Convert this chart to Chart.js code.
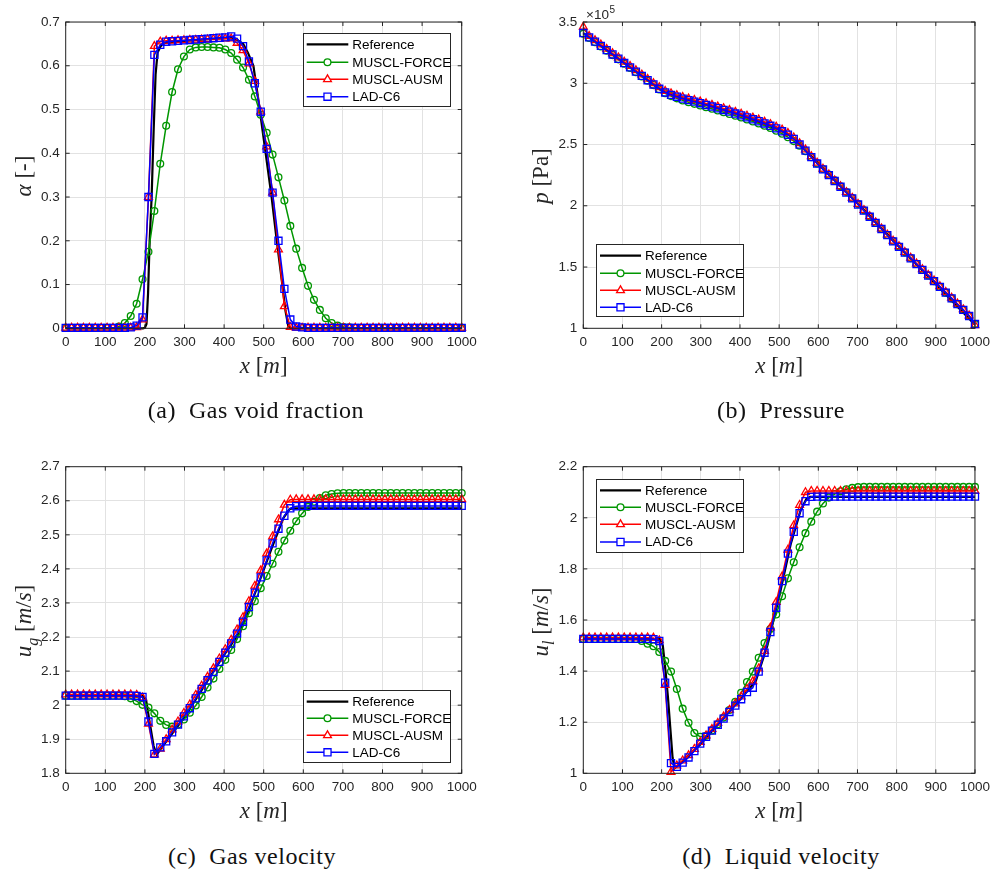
<!DOCTYPE html>
<html>
<head>
<meta charset="utf-8">
<script src="https://cdn.jsdelivr.net/npm/chart.js@4.4.0/dist/chart.umd.min.js"></script>
<style>
  html, body { margin:0; padding:0; background:#fff; }
  body { width:996px; height:871px; position:relative; overflow:hidden; }
  .p { position:absolute; width:496px; height:400px; }
  .cap { position:absolute; width:400px; text-align:center; font-family:"Liberation Serif", serif; font-size:24px; letter-spacing:0.5px; color:#111; white-space:pre; line-height:24px; }
</style>
</head>
<body>
<div class="p" style="left:0;top:0"><canvas id="ca" width="496" height="400"></canvas></div>
<div class="p" style="left:500px;top:0"><canvas id="cb" width="496" height="400"></canvas></div>
<div class="p" style="left:0;top:430px"><canvas id="cc" width="496" height="400"></canvas></div>
<div class="p" style="left:500px;top:430px"><canvas id="cd" width="496" height="400"></canvas></div>
<div class="cap" style="left:56px;top:398px">(a)  Gas void fraction</div>
<div class="cap" style="left:581px;top:398px">(b)  Pressure</div>
<div class="cap" style="left:52px;top:844px">(c)  Gas velocity</div>
<div class="cap" style="left:581px;top:844px">(d)  Liquid velocity</div>
<script>
// ---------- data ----------
const SERIES_NAMES = ['Reference', 'MUSCL-FORCE', 'MUSCL-AUSM', 'LAD-C6'];
const X_TICKS = [0, 100, 200, 300, 400, 500, 600, 700, 800, 900, 1000];

// marker abscissae [m]
const X = [0,14.9,29.9,44.8,59.7,74.6,89.6,104.5,119.4,134.3,
  149.3,164.2,179.1,194,209,223.9,238.8,253.7,268.7,283.6,
  298.5,313.4,328.4,343.3,358.2,373.1,388.1,403,417.9,432.8,
  447.8,462.7,477.6,492.5,507.5,522.4,537.3,552.2,567.2,582.1,
  597,611.9,626.9,641.8,656.7,671.6,686.6,701.5,716.4,731.3,
  746.3,761.2,776.1,791,806,820.9,835.8,850.7,865.7,880.6,
  895.5,910.4,925.4,940.3,955.2,970.1,985.1,1000];

// (a) gas void fraction
const A_TICKS = [0, 0.1, 0.2, 0.3, 0.4, 0.5, 0.6, 0.7];
const refXa = [0,195,200,204,208,212,217,222,227,232,240,250,300,350,400,420,435,448,460,474,490,505,520,533,547,555,562,570,1000];
const refYa = [0,0,0.001,0.01,0.08,0.2,0.3,0.45,0.58,0.63,0.645,0.652,0.657,0.66,0.663,0.664,0.658,0.65,0.63,0.6,0.5,0.4,0.3,0.2,0.1,0.04,0.005,0,0];
const forceA = [0.001,0.001,0.001,0.001,0.001,0.001,0.001,0.001,0.001,0.004,
  0.012,0.028,0.056,0.112,0.175,0.268,0.376,0.463,0.54,0.592,
  0.621,0.637,0.642,0.643,0.643,0.642,0.641,0.637,0.629,0.614,
  0.596,0.568,0.53,0.488,0.447,0.397,0.345,0.292,0.234,0.182,
  0.138,0.097,0.065,0.042,0.023,0.012,0.006,0.003,0.002,0.001,
  0.001,0.001,0.001,0.001,0.001,0.001,0.001,0.001,0.001,0.001,
  0.001,0.001,0.001,0.001,0.001,0.001,0.001,0.001];
const ausmA = [0.001,0.001,0.001,0.001,0.001,0.001,0.001,0.001,0.001,0.001,
  0.001,0.001,0.002,0.02,0.30,0.645,0.655,0.657,0.657,0.658,
  0.658,0.659,0.659,0.66,0.66,0.661,0.661,0.662,0.662,0.652,
  0.635,0.605,0.565,0.495,0.415,0.31,0.18,0.05,0.003,0.001,
  0.001,0.001,0.001,0.001,0.001,0.001,0.001,0.001,0.001,0.001,
  0.001,0.001,0.001,0.001,0.001,0.001,0.001,0.001,0.001,0.001,
  0.001,0.001,0.001,0.001,0.001,0.001,0.001,0.001];
const ladA = [0.001,0.001,0.001,0.001,0.001,0.001,0.001,0.001,0.001,0.001,
  0.001,0.002,0.006,0.025,0.30,0.625,0.648,0.655,0.656,0.657,
  0.658,0.659,0.66,0.661,0.662,0.663,0.664,0.665,0.667,0.662,
  0.645,0.61,0.56,0.495,0.41,0.31,0.2,0.09,0.02,0.004,
  0.002,0.001,0.001,0.001,0.001,0.001,0.001,0.001,0.001,0.001,
  0.001,0.001,0.001,0.001,0.001,0.001,0.001,0.001,0.001,0.001,
  0.001,0.001,0.001,0.001,0.001,0.001,0.001,0.001];

// (b) pressure, in units of 1e5 Pa
const B_TICKS = [1, 1.5, 2, 2.5, 3, 3.5];
const refXb = [0,100,200,230,300,400,500,540,560,600,700,800,900,1000];
const refYb = [3.41,3.175,2.94,2.897,2.837,2.74,2.62,2.55,2.48,2.345,2.022,1.687,1.36,1.03];
const forceB = [3.405,3.37,3.335,3.3,3.265,3.23,3.195,3.16,3.125,3.09,
  3.055,3.02,2.985,2.95,2.918,2.895,2.877,2.86,2.845,2.832,
  2.819,2.805,2.792,2.778,2.764,2.75,2.735,2.72,2.704,2.688,
  2.672,2.654,2.635,2.613,2.588,2.56,2.528,2.49,2.445,2.396,
  2.346,2.3,2.254,2.207,2.16,2.112,2.064,2.014,1.963,1.912,
  1.862,1.812,1.762,1.712,1.667,1.62,1.573,1.525,1.478,1.431,
  1.385,1.338,1.291,1.244,1.197,1.15,1.1,1.035];
const ausmB = [3.46,3.385,3.35,3.315,3.28,3.245,3.21,3.175,3.14,3.105,
  3.07,3.035,3.0,2.967,2.937,2.917,2.902,2.888,2.875,2.863,
  2.85,2.836,2.823,2.809,2.795,2.781,2.766,2.751,2.735,2.719,
  2.703,2.685,2.666,2.645,2.621,2.593,2.557,2.51,2.458,2.403,
  2.35,2.302,2.254,2.206,2.159,2.111,2.064,2.014,1.964,1.914,
  1.864,1.814,1.764,1.714,1.669,1.622,1.575,1.528,1.481,1.434,
  1.389,1.342,1.295,1.248,1.201,1.154,1.104,1.025];
const ladB = [3.41,3.375,3.34,3.305,3.27,3.235,3.2,3.165,3.13,3.095,
  3.06,3.025,2.99,2.955,2.925,2.905,2.89,2.875,2.862,2.85,
  2.837,2.823,2.81,2.796,2.782,2.768,2.753,2.738,2.722,2.706,
  2.69,2.672,2.653,2.632,2.608,2.58,2.545,2.5,2.45,2.397,
  2.345,2.297,2.25,2.202,2.155,2.107,2.06,2.01,1.96,1.91,
  1.86,1.81,1.76,1.71,1.665,1.618,1.571,1.524,1.477,1.43,
  1.385,1.338,1.291,1.244,1.197,1.15,1.1,1.035];

// (c) gas velocity [m/s]
const C_TICKS = [1.8, 1.9, 2, 2.1, 2.2, 2.3, 2.4, 2.5, 2.6, 2.7];
const refXc = [0,195,203,212,222,230,240,300,400,440,480,520,550,565,575,1000];
const refYc = [2.028,2.027,2.015,1.95,1.88,1.855,1.872,1.965,2.148,2.215,2.335,2.46,2.55,2.575,2.578,2.578];
const forceC = [2.028,2.028,2.028,2.028,2.028,2.028,2.028,2.028,2.028,2.028,
  2.026,2.02,2.012,2.001,1.993,1.976,1.954,1.942,1.937,1.943,
  1.958,1.978,1.999,2.024,2.052,2.078,2.106,2.133,2.162,2.194,
  2.232,2.27,2.305,2.343,2.379,2.415,2.45,2.483,2.512,2.54,
  2.563,2.582,2.597,2.608,2.616,2.62,2.622,2.623,2.623,2.623,
  2.623,2.623,2.623,2.623,2.623,2.623,2.623,2.623,2.623,2.623,
  2.623,2.623,2.623,2.623,2.623,2.623,2.623,2.623];
const ausmC = [2.031,2.031,2.031,2.031,2.031,2.031,2.031,2.031,2.031,2.031,
  2.031,2.031,2.03,2.022,1.945,1.855,1.872,1.9,1.928,1.952,
  1.977,2.002,2.03,2.057,2.083,2.108,2.137,2.164,2.192,2.222,
  2.258,2.305,2.35,2.395,2.445,2.495,2.545,2.588,2.603,2.604,
  2.604,2.604,2.604,2.604,2.604,2.604,2.604,2.604,2.604,2.604,
  2.604,2.604,2.604,2.604,2.604,2.604,2.604,2.604,2.604,2.604,
  2.604,2.604,2.604,2.604,2.604,2.604,2.604,2.604];
const ladC = [2.028,2.028,2.028,2.028,2.028,2.028,2.028,2.028,2.028,2.028,
  2.028,2.028,2.027,2.024,1.952,1.857,1.876,1.894,1.92,1.943,
  1.967,1.991,2.02,2.048,2.073,2.097,2.127,2.154,2.181,2.21,
  2.245,2.288,2.33,2.375,2.425,2.475,2.518,2.556,2.578,2.584,
  2.585,2.585,2.585,2.585,2.585,2.585,2.585,2.585,2.585,2.585,
  2.585,2.585,2.585,2.585,2.585,2.585,2.585,2.585,2.585,2.585,
  2.585,2.585,2.585,2.585,2.585,2.585,2.585,2.585];

// (d) liquid velocity [m/s]
const D_TICKS = [1, 1.2, 1.4, 1.6, 1.8, 2, 2.2];
const refXd = [0,195,203,210,216,222,228,233,245,300,400,440,470,500,530,555,570,580,1000];
const refYd = [1.526,1.525,1.5,1.4,1.3,1.18,1.06,1.02,1.035,1.115,1.29,1.36,1.5,1.69,1.9,2.03,2.075,2.082,2.082];
const forceD = [1.526,1.526,1.526,1.526,1.526,1.526,1.526,1.526,1.526,1.526,
  1.518,1.507,1.497,1.475,1.44,1.398,1.33,1.253,1.198,1.158,
  1.143,1.147,1.168,1.192,1.218,1.248,1.28,1.315,1.357,1.398,
  1.452,1.51,1.565,1.622,1.693,1.763,1.826,1.885,1.94,1.985,
  2.024,2.056,2.079,2.093,2.104,2.112,2.117,2.12,2.121,2.121,
  2.121,2.121,2.121,2.121,2.121,2.121,2.121,2.121,2.121,2.121,
  2.121,2.121,2.121,2.121,2.121,2.121,2.121,2.121];
const ausmD = [1.531,1.531,1.531,1.531,1.531,1.531,1.531,1.531,1.531,1.531,
  1.531,1.531,1.53,1.52,1.345,1.005,1.03,1.05,1.07,1.095,
  1.122,1.148,1.173,1.197,1.222,1.248,1.273,1.3,1.33,1.36,
  1.41,1.478,1.57,1.67,1.77,1.875,1.97,2.05,2.1,2.105,
  2.105,2.105,2.105,2.105,2.105,2.105,2.105,2.105,2.105,2.105,
  2.105,2.105,2.105,2.105,2.105,2.105,2.105,2.105,2.105,2.105,
  2.105,2.105,2.105,2.105,2.105,2.105,2.105,2.105];
const ladD = [1.526,1.526,1.526,1.526,1.526,1.526,1.526,1.526,1.526,1.526,
  1.526,1.526,1.525,1.518,1.355,1.04,1.025,1.042,1.062,1.087,
  1.116,1.143,1.167,1.19,1.214,1.24,1.265,1.29,1.318,1.335,
  1.398,1.472,1.553,1.648,1.752,1.86,1.945,2.018,2.065,2.082,
  2.083,2.083,2.083,2.083,2.083,2.083,2.083,2.083,2.083,2.083,
  2.083,2.083,2.083,2.083,2.083,2.083,2.083,2.083,2.083,2.083,
  2.083,2.083,2.083,2.083,2.083,2.083,2.083,2.083];

// ---------- styling ----------
const STYLES = [
  { color: '#000000', width: 2.2, pointStyle: false, r: 0 },
  { color: 'rgb(0,150,0)', width: 1.5, pointStyle: 'circle', r: 3.4 },
  { color: 'rgb(255,0,0)', width: 1.5, pointStyle: 'triangle', r: 4.5 },
  { color: 'rgb(0,0,255)', width: 1.5, pointStyle: 'rect', r: 5 }
];
const AX = '#262626';
const TICK_FONT = { family: '"Liberation Sans", Arial, sans-serif', size: 13.5 };
const MATH_FONT = '"Liberation Serif", "Times New Roman", serif';
const MATH_SIZE = 23;
const W = 496, H = 400;

function pts(xs, ys) { return xs.map((x, i) => ({ x: x, y: ys[i] })); }

function drawMath(ctx, parts, cx, cy, rot, size) {
  ctx.save();
  ctx.translate(cx, cy);
  if (rot) ctx.rotate(-Math.PI / 2);
  let w = 0;
  const segs = parts.map(p => {
    const fs = p.sub ? size * 0.7 : size;
    const font = (p.it ? 'italic ' : '') + fs + 'px ' + MATH_FONT;
    ctx.font = font;
    const mw = ctx.measureText(p.t).width;
    w += mw;
    return { t: p.t, font: font, mw: mw, dy: p.sub ? size * 0.28 : 0 };
  });
  let x = -w / 2;
  ctx.fillStyle = AX;
  ctx.textBaseline = 'alphabetic';
  ctx.textAlign = 'left';
  for (const s of segs) {
    ctx.font = s.font;
    ctx.fillText(s.t, x, size * 0.27 + s.dy);
    x += s.mw;
  }
  ctx.restore();
}

function drawLegend(ctx, L) {
  ctx.save();
  ctx.fillStyle = '#ffffff';
  ctx.fillRect(L.x, L.y, L.w, L.h);
  ctx.strokeStyle = AX;
  ctx.lineWidth = 1;
  ctx.strokeRect(Math.round(L.x) + 0.5, Math.round(L.y) + 0.5, Math.round(L.w), Math.round(L.h));
  for (let i = 0; i < 4; i++) {
    const st = STYLES[i], y = L.rows[i];
    ctx.strokeStyle = st.color;
    ctx.lineWidth = st.width;
    ctx.beginPath();
    ctx.moveTo(L.x1, y);
    ctx.lineTo(L.x2, y);
    ctx.stroke();
    if (st.pointStyle) {
      ctx.fillStyle = '#ffffff';
      ctx.lineWidth = 1.3;
      ctx.strokeStyle = st.color;
      Chart.helpers.drawPoint(ctx, { pointStyle: st.pointStyle, radius: st.r, rotation: 0, borderWidth: 1.3 }, (L.x1 + L.x2) / 2, y);
    }
    ctx.fillStyle = '#000000';
    ctx.font = '13.5px ' + TICK_FONT.family;
    ctx.textBaseline = 'middle';
    ctx.textAlign = 'left';
    ctx.fillText(SERIES_NAMES[i], L.tx, y + 0.5);
  }
  ctx.restore();
}

function makePanel(P) {
  const series = [P.ref, pts(X, P.force), pts(X, P.ausm), pts(X, P.lad)];
  const datasets = series.map((d, i) => {
    const st = STYLES[i];
    return {
      label: SERIES_NAMES[i],
      data: d,
      showLine: true,
      borderColor: st.color,
      borderWidth: st.width,
      backgroundColor: st.color,
      pointStyle: st.pointStyle || 'circle',
      pointRadius: st.r,
      pointBorderWidth: 1.3,
      pointBorderColor: st.color,
      pointBackgroundColor: 'rgba(255,255,255,0)',
      pointHoverRadius: st.r,
      tension: 0,
      clip: false,
      order: 4 - i
    };
  });
  const A = P.area;
  const frame = {
    id: 'frame' + P.id,
    afterDraw(chart) {
      const ctx = chart.ctx;
      const ca = chart.chartArea;
      const xs = chart.scales.x, ys = chart.scales.y;
      ctx.save();
      ctx.strokeStyle = AX;
      ctx.lineWidth = 1;
      const tl = 4;
      ctx.beginPath();
      X_TICKS.forEach(v => {
        const px = xs.getPixelForValue(v);
        ctx.moveTo(px, ca.bottom); ctx.lineTo(px, ca.bottom - tl);
        ctx.moveTo(px, ca.top); ctx.lineTo(px, ca.top + tl);
      });
      P.yticks.forEach(v => {
        const py = ys.getPixelForValue(v);
        ctx.moveTo(ca.left, py); ctx.lineTo(ca.left + tl, py);
        ctx.moveTo(ca.right, py); ctx.lineTo(ca.right - tl, py);
      });
      ctx.stroke();
      ctx.strokeRect(ca.left, ca.top, ca.right - ca.left, ca.bottom - ca.top);
      ctx.restore();
      drawLegend(ctx, P.legend);
      drawMath(ctx, [{ t: 'x', it: 1 }, { t: ' [' }, { t: 'm', it: 1 }, { t: ']' }], (ca.left + ca.right) / 2, P.xty, false, MATH_SIZE);
      drawMath(ctx, P.ytitle, P.ytx, P.yty, true, MATH_SIZE);
      if (P.exp) {
        ctx.save();
        ctx.fillStyle = AX;
        ctx.textBaseline = 'alphabetic';
        ctx.textAlign = 'left';
        ctx.font = '13.5px ' + TICK_FONT.family;
        ctx.fillText('\u00d710', 86, 19);
        const w = ctx.measureText('\u00d710').width;
        ctx.font = '10px ' + TICK_FONT.family;
        ctx.fillText('5', 86 + w + 0.5, 13);
        ctx.restore();
      }
    }
  };
  new Chart(document.getElementById(P.id), {
    type: 'scatter',
    data: { datasets: datasets },
    options: {
      responsive: false,
      animation: false,
      devicePixelRatio: 1,
      events: [],
      layout: { padding: { left: 0, top: A.t, right: W - A.r, bottom: 0 } },
      plugins: { legend: { display: false }, tooltip: { enabled: false } },
      scales: {
        x: {
          type: 'linear', min: 0, max: 1000,
          afterFit: s => { s.height = H - A.b; },
          afterBuildTicks: s => { s.ticks = X_TICKS.map(v => ({ value: v })); },
          ticks: { font: TICK_FONT, color: AX, padding: 6, maxRotation: 0, autoSkip: false,
                   callback: v => String(v) },
          grid: { color: '#e2e2e2', drawTicks: false, lineWidth: 1 },
          border: { display: false }
        },
        y: {
          type: 'linear', min: P.yticks[0], max: P.yticks[P.yticks.length - 1],
          afterFit: s => { s.width = A.l; },
          afterBuildTicks: s => { s.ticks = P.yticks.map(v => ({ value: v })); },
          ticks: { font: TICK_FONT, color: AX, padding: 6, autoSkip: false,
                   callback: v => String(Math.round(v * 100) / 100) },
          grid: { color: '#e2e2e2', drawTicks: false, lineWidth: 1 },
          border: { display: false }
        }
      }
    },
    plugins: [frame]
  });
}

makePanel({
  id: 'ca', ref: pts(refXa, refYa), force: forceA, ausm: ausmA, lad: ladA, yticks: A_TICKS,
  area: { l: 65.7, t: 22, r: 461.7, b: 328.3 },
  ytitle: [{ t: '\u03b1', it: 1 }, { t: ' [-]' }], ytx: 25, yty: 176, xty: 367,
  legend: { x: 302.7, y: 33.3, w: 147.3, h: 73.4, rows: [44.3, 62.3, 79.3, 96.7], x1: 306.7, x2: 348.3, tx: 352.3 }
});
makePanel({
  id: 'cb', ref: pts(refXb, refYb), force: forceB, ausm: ausmB, lad: ladB, yticks: B_TICKS,
  area: { l: 83.3, t: 22, r: 479, b: 328.3 },
  ytitle: [{ t: 'p', it: 1 }, { t: ' [Pa]' }], ytx: 41.7, yty: 176, xty: 367, exp: true,
  legend: { x: 95.7, y: 244.3, w: 147, h: 72.4, rows: [255.7, 273.3, 290.3, 307.3], x1: 100, x2: 141, tx: 145 }
});
makePanel({
  id: 'cc', ref: pts(refXc, refYc), force: forceC, ausm: ausmC, lad: ladC, yticks: C_TICKS,
  area: { l: 65.7, t: 36.7, r: 461.7, b: 343.3 },
  ytitle: [{ t: 'u', it: 1 }, { t: 'g', it: 1, sub: 1 }, { t: ' [' }, { t: 'm', it: 1 }, { t: '/' }, { t: 's', it: 1 }, { t: ']' }],
  ytx: 25, yty: 191, xty: 381.7,
  legend: { x: 302.7, y: 260, w: 147.3, h: 72.3, rows: [271.7, 288.3, 305.3, 322.3], x1: 306.7, x2: 348.3, tx: 352.3 }
});
makePanel({
  id: 'cd', ref: pts(refXd, refYd), force: forceD, ausm: ausmD, lad: ladD, yticks: D_TICKS,
  area: { l: 83.3, t: 36.7, r: 479, b: 343.3 },
  ytitle: [{ t: 'u', it: 1 }, { t: 'l', it: 1, sub: 1 }, { t: ' [' }, { t: 'm', it: 1 }, { t: '/' }, { t: 's', it: 1 }, { t: ']' }],
  ytx: 41.7, yty: 192, xty: 381.7,
  legend: { x: 95.7, y: 49, w: 147, h: 72.7, rows: [60.3, 77.3, 94.3, 112], x1: 100, x2: 141, tx: 145 }
});
</script>
</body>
</html>
